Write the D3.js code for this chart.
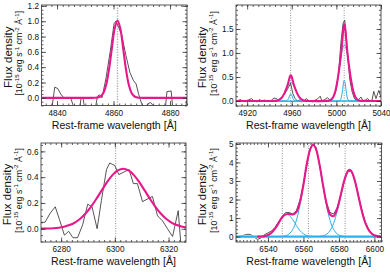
<!DOCTYPE html>
<html>
<head>
<meta charset="utf-8">
<script src="https://cdn.jsdelivr.net/npm/d3@7"></script>
<style>
  body { margin: 0; background: #fff; }
  svg { display: block; }
</style>
</head>
<body>
<div id="chart"></div>
<script>
// ---- panel 1: H-beta ----
var p1XTicks = [4840, 4860, 4880];
var p1YTicks = [0, 0.2, 0.4, 0.6, 0.8, 1.0, 1.2];
var p1Ref = [4861.4];
var p1Wave = [4835, 4838.3, 4839.2, 4840.3, 4841.3, 4842.4, 4843.6, 4844.8, 4846.2, 4848.0,
  4848.5, 4849.2, 4849.8, 4853.5, 4854.3, 4855.0, 4855.9, 4857.3, 4858.8, 4860.2,
  4860.8, 4861.7, 4862.9, 4864.4, 4865.8, 4867.0, 4868.0, 4868.8, 4869.7, 4870.9,
  4872.1, 4873.1, 4874.0, 4875.2, 4878.3, 4878.9, 4880.4, 4881.0, 4885.4, 4886];
var p1Flux = [-0.2, -0.1, 0.14, 0.12, 0.05, 0.0, -0.01, 0.0, -0.15, -0.15,
  0.0, 0.0, -0.15, -0.15, 0.02, 0.04, 0.0, 0.25, 0.6, 0.97,
  1.0, 0.93, 0.82, 0.55, 0.33, 0.23, 0.18, 0.06, -0.05, -0.15,
  -0.08, -0.06, -0.1, -0.15, -0.15, 0.08, 0.09, -0.15, -0.15, -0.02];
var p1FitWave = [4834.5, 4852.4, 4853.4, 4854.4, 4855.4, 4856.4, 4857.4, 4858.4, 4859.4, 4860.4,
  4861.4, 4862.4, 4863.4, 4864.4, 4865.4, 4866.4, 4867.4, 4868.4, 4869.4, 4870.4, 4886];
var p1Fit = [0, 0, 0.001, 0.004, 0.018, 0.063, 0.170, 0.371, 0.647, 0.904,
  1.01, 0.904, 0.647, 0.371, 0.170, 0.063, 0.018, 0.004, 0.001, 0, 0];

// ---- panel 2: [OIII] 4959, 5007 ----
var p2XTicks = [4920, 4960, 5000, 5040];
var p2YTicks = [0, 0.5, 1.0, 1.5];
var p2Ref = [4959, 5007];
var p2Wave = [4910, 4912, 4914, 4916, 4918, 4921, 4924, 4926, 4929, 4931,
  4933, 4936, 4938, 4941, 4944, 4946, 4948, 4950, 4952, 4953.5,
  4955, 4957, 4959, 4961, 4963, 4965, 4967, 4969, 4971, 4973,
  4975, 4977, 4979, 4981, 4983, 4985.5, 4987, 4989, 4992, 4994,
  4996, 4998, 5000, 5002, 5004, 5006, 5007.5, 5009, 5010.5, 5012,
  5014, 5016, 5018, 5020, 5022, 5024, 5026, 5028, 5030, 5032,
  5033.5, 5035.5, 5038, 5040];
var p2Flux = [0.0, 0.01, 0.03, -0.01, 0.0, 0.02, 0.05, 0.0, -0.02, 0.03,
  0.0, 0.02, -0.01, 0.0, 0.06, 0.05, 0.02, 0.06, 0.1, 0.14,
  0.2, 0.28, 0.37, 0.15, 0.05, 0.0, 0.02, -0.02, 0.0, 0.05,
  0.01, 0.0, -0.02, 0.02, 0.04, 0.1, 0.0, 0.02, 0.07, 0.02,
  0.06, 0.1, 0.25, 0.6, 1.2, 1.62, 1.68, 1.3, 0.85, 0.45,
  0.2, 0.06, 0.0, 0.03, 0.08, 0.0, 0.02, 0.05, 0.0, 0.02,
  0.2, 0.05, 0.22, 0.08];
var p2FitWave = [4910, 4943.1, 4945.1, 4947.1, 4949.1, 4951.1, 4953.1, 4954.1, 4955.1, 4956.1,
  4956.6, 4957.1, 4957.6, 4958.1, 4958.6, 4959.1, 4959.6, 4960.1, 4960.6, 4961.1,
  4961.6, 4962.1, 4963.1, 4964.1, 4965.1, 4967.1, 4969.1, 4971.1, 4973.1, 4975.1,
  4991.1, 4993.1, 4995.1, 4997.1, 4999.1, 5001.1, 5002.1, 5003.1, 5004.1, 5004.6,
  5005.1, 5005.6, 5006.1, 5006.6, 5007.1, 5007.6, 5008.1, 5008.6, 5009.1, 5009.6,
  5010.1, 5011.1, 5012.1, 5013.1, 5015.1, 5017.1, 5019.1, 5021.1, 5023.1, 5040];
var p2Fit = [0, 0, 0.002, 0.008, 0.026, 0.069, 0.147, 0.198, 0.256, 0.321,
  0.358, 0.402, 0.449, 0.492, 0.523, 0.535, 0.523, 0.492, 0.449, 0.402,
  0.358, 0.321, 0.256, 0.198, 0.147, 0.069, 0.026, 0.008, 0.002, 0,
  0.001, 0.006, 0.024, 0.078, 0.208, 0.442, 0.596, 0.766, 0.960, 1.075,
  1.205, 1.343, 1.472, 1.565, 1.600, 1.565, 1.472, 1.343, 1.205, 1.075,
  0.960, 0.766, 0.596, 0.442, 0.208, 0.078, 0.024, 0.006, 0.001, 0];
var p2BroadAWave = [4910, 4943.1, 4945.1, 4947.1, 4949.1, 4951.1, 4953.1, 4955.1, 4957.1, 4959.1,
  4961.1, 4963.1, 4965.1, 4967.1, 4969.1, 4971.1, 4973.1, 4975.1, 5040];
var p2BroadA = [0, 0.0004, 0.002, 0.008, 0.026, 0.069, 0.147, 0.253, 0.35, 0.39,
  0.35, 0.253, 0.147, 0.069, 0.026, 0.008, 0.002, 0.0004, 0];
var p2NarrowAWave = [4910, 4954.1, 4955.1, 4956.1, 4956.6, 4957.1, 4957.6, 4958.1, 4958.6, 4959.1,
  4959.6, 4960.1, 4960.6, 4961.1, 4961.6, 4962.1, 4963.1, 4964.1, 5040];
var p2NarrowA = [0, 0.0002, 0.0025, 0.015, 0.029, 0.052, 0.082, 0.112, 0.136, 0.145,
  0.136, 0.112, 0.082, 0.052, 0.029, 0.015, 0.0025, 0.0002, 0];
var p2BroadBWave = [4910, 4991.1, 4993.1, 4995.1, 4997.1, 4999.1, 5001.1, 5003.1, 5005.1, 5007.1,
  5009.1, 5011.1, 5013.1, 5015.1, 5017.1, 5019.1, 5021.1, 5023.1, 5040];
var p2BroadB = [0, 0.0012, 0.0059, 0.0239, 0.0784, 0.2076, 0.442, 0.759, 1.050, 1.17,
  1.050, 0.759, 0.442, 0.2076, 0.0784, 0.0239, 0.0059, 0.0012, 0];
var p2NarrowBWave = [4910, 5002.1, 5003.1, 5004.1, 5004.6, 5005.1, 5005.6, 5006.1, 5006.6, 5007.1,
  5007.6, 5008.1, 5008.6, 5009.1, 5009.6, 5010.1, 5011.1, 5012.1, 5040];
var p2NarrowB = [0, 0.0007, 0.0073, 0.043, 0.087, 0.155, 0.242, 0.333, 0.403, 0.43,
  0.403, 0.333, 0.242, 0.155, 0.087, 0.043, 0.0073, 0.0007, 0];

// ---- panel 3: [OI] 6300 ----
var p3XTicks = [6280, 6300, 6320];
var p3YTicks = [0, 0.2, 0.4, 0.6];
var p3Ref = [6300.3];
var p3Wave = [6272.5, 6274, 6275.9, 6277.8, 6279.4, 6281.2, 6282.8, 6284.4, 6286.1, 6288,
  6289.9, 6291.5, 6293.4, 6295, 6296.9, 6298.1, 6300, 6301.5, 6303.4, 6305.3,
  6306.9, 6308.4, 6310.3, 6312.1, 6314, 6315.9, 6317.8, 6319.6, 6321.5, 6323.6,
  6324.9, 6326.5];
var p3Flux = [0.05, 0.05, 0.12, 0.17, 0.07, -0.05, -0.02, -0.07, -0.07, 0.03,
  0.19, 0.17, 0.0, 0.22, 0.46, 0.51, 0.49, 0.42, 0.44, 0.46,
  0.35, 0.35, 0.21, 0.23, 0.25, 0.1, 0.06, 0.0, -0.06, 0.14,
  -0.2, -0.2];
var p3FitWave = [6272.5, 6275.1, 6277.1, 6279.1, 6281.1, 6283.1, 6285.1, 6287.1, 6289.1, 6291.1,
  6293.1, 6295.1, 6297.1, 6299.1, 6301.1, 6303.1, 6305.1, 6307.1, 6309.1, 6311.1,
  6313.1, 6315.1, 6317.1, 6319.1, 6321.1, 6323.1, 6325.1, 6326.5];
var p3Fit = [0.0007, 0.0019, 0.0041, 0.0082, 0.0157, 0.0282, 0.048, 0.0774, 0.118, 0.170,
  0.231, 0.297, 0.361, 0.416, 0.452, 0.465, 0.452, 0.416, 0.361, 0.297,
  0.231, 0.170, 0.118, 0.0774, 0.048, 0.0282, 0.0157, 0.011];

// ---- panel 4: H-alpha + [NII] ----
var p4XTicks = [6540, 6560, 6580, 6600];
var p4YTicks = [0, 1, 2, 3, 4, 5];
var p4Ref = [6548.1, 6562.8, 6583.5];
var p4Wave = [6522, 6524, 6526, 6528, 6530, 6532, 6534, 6536, 6538, 6540,
  6542, 6544, 6546, 6548, 6550, 6552, 6554, 6556, 6558, 6560,
  6562, 6564, 6565.5, 6567, 6569, 6571, 6573, 6575, 6577, 6579,
  6581, 6583, 6585, 6587, 6589, 6591, 6593, 6595, 6597, 6599,
  6601, 6603, 6604];
var p4Flux = [0.0, 0.02, 0.06, 0.12, 0.12, 0.0, -0.15, -0.08, 0.1, 0.2,
  0.3, 0.5, 0.8, 1.1, 1.3, 1.3, 1.22, 1.4, 1.95, 2.85,
  3.95, 4.8, 4.98, 4.85, 3.95, 2.75, 1.8, 1.3, 1.22, 1.55,
  2.25, 3.0, 3.5, 3.55, 3.05, 2.2, 1.4, 0.75, 0.35, 0.12,
  0.0, -0.02, -0.02];
var p4FitWave = [6534, 6536, 6538, 6540, 6542, 6544, 6546, 6548, 6550, 6552,
  6554, 6556, 6558, 6560, 6562, 6564, 6565.5, 6567, 6569, 6571,
  6573, 6575, 6577, 6579, 6581, 6583, 6585, 6586, 6587, 6589,
  6591, 6593, 6595, 6597, 6599, 6601, 6603, 6604];
var p4Fit = [0.002, 0.008, 0.028, 0.084, 0.209, 0.430, 0.731, 1.037, 1.2, 1.22,
  1.2, 1.32, 1.85, 2.8, 3.967, 4.758, 4.957, 4.746, 3.922, 2.807,
  1.802, 1.193, 1.103, 1.500, 2.232, 3.021, 3.532, 3.6, 3.529, 3.007,
  2.183, 1.351, 0.713, 0.320, 0.1225, 0.040, 0.011, 0.006];
var p4N1Wave = [6522, 6534, 6536, 6538, 6540, 6542, 6544, 6546, 6548, 6550,
  6551, 6552, 6554, 6556, 6558, 6560, 6562, 6564, 6566, 6568, 6570, 6604];
var p4N1 = [0, 0.002, 0.0078, 0.028, 0.084, 0.209, 0.429, 0.728, 1.023, 1.190,
  1.195, 1.146, 0.913, 0.602, 0.329, 0.149, 0.056, 0.017, 0.004, 0.001, 0, 0];
var p4HaWave = [6522, 6544, 6546, 6548, 6550, 6552, 6554, 6556, 6558, 6560,
  6562, 6564, 6565.5, 6567, 6569, 6571, 6573, 6575, 6577, 6579,
  6581, 6583, 6585, 6587, 6604];
var p4Ha = [0, 0.0007, 0.0033, 0.0137, 0.049, 0.149, 0.390, 0.873, 1.679, 2.767,
  3.911, 4.741, 4.95, 4.741, 3.911, 2.767, 1.679, 0.873, 0.390, 0.149,
  0.049, 0.0137, 0.0033, 0.0007, 0];
var p4N2Wave = [6522, 6565, 6567, 6569, 6571, 6573, 6575, 6577, 6579, 6581,
  6583, 6584, 6585, 6586, 6587, 6588, 6589, 6591, 6593, 6595,
  6597, 6599, 6601, 6603, 6604];
var p4N2 = [0, 0.0005, 0.0026, 0.0111, 0.040, 0.1225, 0.320, 0.713, 1.351, 2.183,
  3.007, 3.323, 3.529, 3.6, 3.529, 3.323, 3.007, 2.183, 1.351, 0.713,
  0.320, 0.1225, 0.040, 0.0111, 0.006];
var p4ContWave = [6522, 6604];
var p4Cont = [0, 0];

(function () {
  var FONT = '"Liberation Sans", Arial, Helvetica, sans-serif';
  var MAGENTA = '#e8188a';
  var CYAN = '#2aafe6';

  var svg = d3.select('#chart')
    .append('svg')
    .attr('width', 390)
    .attr('height', 276)
    .attr('font-family', FONT);

  function zip(xs, ys) {
    return xs.map(function (v, i) { return [v, ys[i]]; });
  }

  var panels = [
    {
      id: 1, left: 41.5, right: 187, top: 5, bottom: 105.5,
      xDomain: [4834.5, 4886], yDomain: [-0.1, 1.212],
      xTicks: p1XTicks, yTicks: p1YTicks, xMinor: 2, yMinor: 0.05, yFmt: d3.format('.1f'),
      refs: p1Ref, refStyle: { color: '#b0b0b0', width: 1.4, dash: '1.3,1.3' },
      data: zip(p1Wave, p1Flux), fit: zip(p1FitWave, p1Fit), comps: []
    },
    {
      id: 2, left: 236, right: 381, top: 5, bottom: 106,
      xDomain: [4910, 5040], yDomain: [-0.105, 2.0],
      xTicks: p2XTicks, yTicks: p2YTicks, xMinor: 5, yMinor: 0.1, yFmt: d3.format('.1f'),
      refs: p2Ref, refStyle: { color: '#777', width: 0.8, dash: '1,1.5' },
      data: zip(p2Wave, p2Flux), fit: zip(p2FitWave, p2Fit),
      comps: [zip(p2BroadAWave, p2BroadA), zip(p2NarrowAWave, p2NarrowA),
        zip(p2BroadBWave, p2BroadB), zip(p2NarrowBWave, p2NarrowB)]
    },
    {
      id: 3, left: 41, right: 186, top: 143, bottom: 242,
      xDomain: [6272.5, 6326.5], yDomain: [-0.103, 0.665],
      xTicks: p3XTicks, yTicks: p3YTicks, xMinor: 2, yMinor: 0.05, yFmt: d3.format('.1f'),
      refs: p3Ref, refStyle: { color: '#777', width: 0.8, dash: '1,1.5' },
      data: zip(p3Wave, p3Flux), fit: zip(p3FitWave, p3Fit), comps: []
    },
    {
      id: 4, left: 236, right: 381.5, top: 143, bottom: 242,
      xDomain: [6522, 6604], yDomain: [-0.29, 5.05],
      xTicks: p4XTicks, yTicks: p4YTicks, xMinor: 2, yMinor: 0.2, yFmt: d3.format('d'),
      refs: p4Ref, refStyle: { color: '#777', width: 0.8, dash: '1,1.5' },
      data: zip(p4Wave, p4Flux), fit: zip(p4FitWave, p4Fit),
      comps: [zip(p4N1Wave, p4N1), zip(p4HaWave, p4Ha), zip(p4N2Wave, p4N2)],
      cont: zip(p4ContWave, p4Cont)
    }
  ];

  function minorValues(domain, step) {
    var start = Math.ceil(domain[0] / step) * step;
    return d3.range(start, domain[1] + step * 0.01, step);
  }

  function styleAxis(sel) {
    sel.select('.domain').remove();
    sel.attr('font-family', FONT).attr('font-size', 8.2).attr('color', '#333');
    sel.selectAll('.tick line').attr('stroke-width', 0.8);
    sel.selectAll('.tick text').attr('fill', '#111');
  }

  function drawPanel(p) {
    var g = svg.append('g');
    var x = d3.scaleLinear().domain(p.xDomain).range([p.left, p.right]);
    var y = d3.scaleLinear().domain(p.yDomain).range([p.bottom, p.top]);

    var clipId = 'clip-' + p.id;
    svg.append('clipPath').attr('id', clipId)
      .append('rect')
      .attr('x', p.left).attr('y', p.top)
      .attr('width', p.right - p.left).attr('height', p.bottom - p.top);

    var plot = g.append('g').attr('clip-path', 'url(#' + clipId + ')');

    var smooth = d3.line()
      .x(function (d) { return x(d[0]); })
      .y(function (d) { return y(d[1]); })
      .curve(d3.curveCatmullRom.alpha(0.5));
    var straight = d3.line()
      .x(function (d) { return x(d[0]); })
      .y(function (d) { return y(d[1]); });

    // expected line positions
    plot.selectAll('line.ref')
      .data(p.refs)
      .enter().append('line')
      .attr('class', 'ref')
      .attr('x1', function (d) { return x(d); })
      .attr('x2', function (d) { return x(d); })
      .attr('y1', p.top).attr('y2', p.bottom)
      .attr('stroke', p.refStyle.color)
      .attr('stroke-width', p.refStyle.width)
      .attr('stroke-dasharray', p.refStyle.dash);

    plot.append('path')
      .attr('d', straight(p.data))
      .attr('fill', 'none')
      .attr('stroke', '#2a2a2a')
      .attr('stroke-width', 0.8)
      .attr('stroke-linejoin', 'round');

    if (p.cont) {
      plot.append('path')
        .attr('d', straight(p.cont))
        .attr('fill', 'none')
        .attr('stroke', '#74cdf2')
        .attr('stroke-width', 2.6);
    }

    p.comps.forEach(function (c) {
      plot.append('path')
        .attr('d', smooth(c))
        .attr('fill', 'none')
        .attr('stroke', CYAN)
        .attr('stroke-width', 1);
    });

    plot.append('path')
      .attr('d', smooth(p.fit))
      .attr('fill', 'none')
      .attr('stroke', MAGENTA)
      .attr('stroke-width', 2.1)
      .attr('stroke-linejoin', 'round');

    // axes, ticks pointing inward on all four sides
    var xMinorVals = minorValues(p.xDomain, p.xMinor);
    var yMinorVals = minorValues(p.yDomain, p.yMinor);

    g.append('g').attr('transform', 'translate(0,' + p.bottom + ')')
      .call(d3.axisBottom(x).tickValues(xMinorVals).tickSize(-2).tickFormat(''))
      .call(styleAxis);
    g.append('g').attr('transform', 'translate(0,' + p.bottom + ')')
      .call(d3.axisBottom(x).tickValues(p.xTicks).tickSize(-4.5).tickPadding(4.6).tickFormat(d3.format('d')))
      .call(styleAxis);
    g.append('g').attr('transform', 'translate(0,' + p.top + ')')
      .call(d3.axisTop(x).tickValues(xMinorVals).tickSize(-2).tickFormat(''))
      .call(styleAxis);
    g.append('g').attr('transform', 'translate(0,' + p.top + ')')
      .call(d3.axisTop(x).tickValues(p.xTicks).tickSize(-4.5).tickFormat(''))
      .call(styleAxis);

    g.append('g').attr('transform', 'translate(' + p.left + ',0)')
      .call(d3.axisLeft(y).tickValues(yMinorVals).tickSize(-2).tickFormat(''))
      .call(styleAxis);
    g.append('g').attr('transform', 'translate(' + p.left + ',0)')
      .call(d3.axisLeft(y).tickValues(p.yTicks).tickSize(-4.5).tickPadding(2.5).tickFormat(p.yFmt))
      .call(styleAxis);
    g.append('g').attr('transform', 'translate(' + p.right + ',0)')
      .call(d3.axisRight(y).tickValues(yMinorVals).tickSize(-2).tickFormat(''))
      .call(styleAxis);
    g.append('g').attr('transform', 'translate(' + p.right + ',0)')
      .call(d3.axisRight(y).tickValues(p.yTicks).tickSize(-4.5).tickFormat(''))
      .call(styleAxis);

    g.append('rect')
      .attr('x', p.left).attr('y', p.top)
      .attr('width', p.right - p.left).attr('height', p.bottom - p.top)
      .attr('fill', 'none')
      .attr('stroke', '#444')
      .attr('stroke-width', 0.9);

    // titles
    g.append('text')
      .attr('x', (p.left + p.right) / 2)
      .attr('y', p.bottom + 23)
      .attr('text-anchor', 'middle')
      .attr('font-size', 10.6)
      .attr('fill', '#111')
      .text('Rest-frame wavelength [Å]');

    var cy = (p.top + p.bottom) / 2;
    g.append('text')
      .attr('transform', 'translate(' + (p.left - 30) + ',' + (cy + 2) + ') rotate(-90)')
      .attr('text-anchor', 'middle')
      .attr('font-size', 11.5)
      .attr('fill', '#111')
      .text('Flux density');

    var unit = g.append('text')
      .attr('transform', 'translate(' + (p.left - 19.5) + ',' + (cy - 2) + ') rotate(-90)')
      .attr('text-anchor', 'middle')
      .attr('font-size', 8.8)
      .attr('fill', '#111');
    var parts = [['[10', 0], ['-15', 1], [' erg s', 0], ['-1', 1], [' cm', 0], ['-2', 1], [' Å', 0], ['-1', 1], [']', 0]];
    var raised = false;
    parts.forEach(function (part) {
      var ts = unit.append('tspan').text(part[0]);
      if (part[1]) {
        ts.attr('font-size', 6.2).attr('dy', raised ? 0 : -3.3);
        raised = true;
      } else {
        if (raised) { ts.attr('dy', 3.3); }
        raised = false;
      }
    });
  }

  panels.forEach(drawPanel);
})();
</script>
</body>
</html>
